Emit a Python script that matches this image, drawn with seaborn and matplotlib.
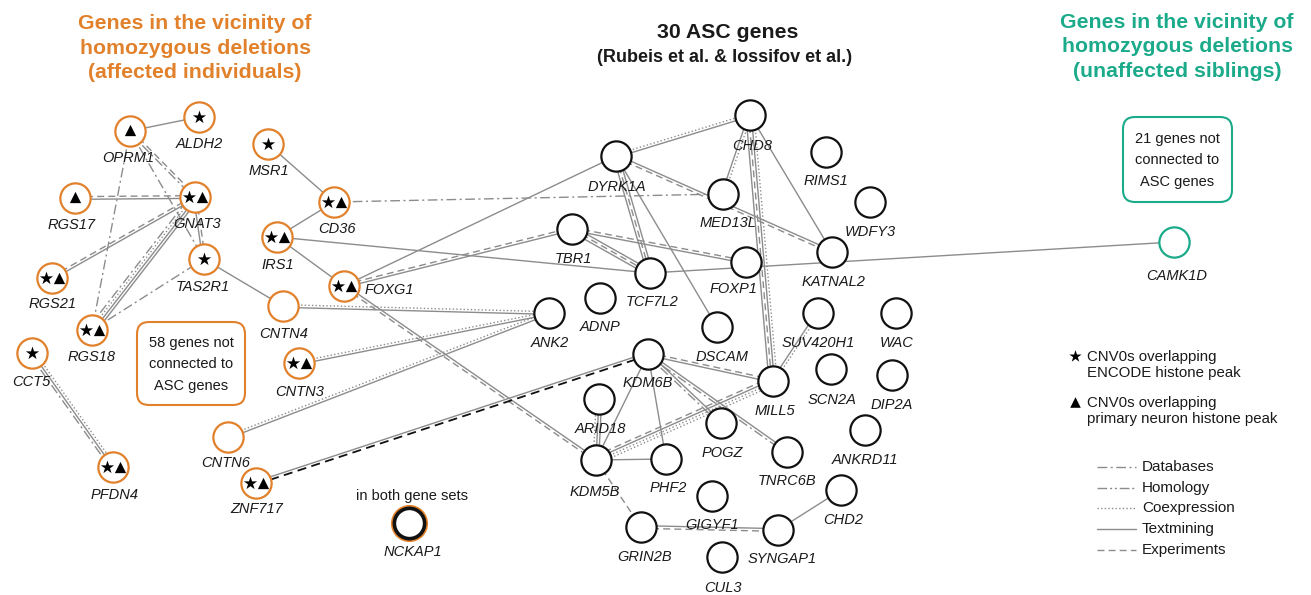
import numpy as np
import pandas as pd
import matplotlib
matplotlib.use("Agg")
import matplotlib.pyplot as plt
from matplotlib.patches import FancyBboxPatch
import seaborn as sns

# ---------------- data ----------------
gene_names = ["OPRM1", "ALDH2", "MSR1", "RGS17", "GNAT3", "TAS2R1", "RGS21", "RGS18",
              "CCT5", "PFDN4", "CD36", "IRS1", "FOXG1", "CNTN4", "CNTN3", "CNTN6", "ZNF717",
              "NCKAP1",
              "CHD8", "DYRK1A", "MED13L", "RIMS1", "WDFY3", "TBR1", "TCF7L2", "FOXP1", "KATNAL2",
              "ADNP", "DSCAM", "SUV420H1", "WAC", "ANK2", "KDM6B", "MILL5", "SCN2A", "DIP2A",
              "ARID18", "POGZ", "ANKRD11", "KDM5B", "PHF2", "TNRC6B", "CHD2", "GIGYF1",
              "GRIN2B", "SYNGAP1", "CUL3",
              "CAMK1D"]
gene_group = (["affected"] * 17 + ["both"] + ["asc"] * 29 + ["sibling"])
# histone peak marks: S = ENCODE (star), T = primary neuron (triangle)
gene_marks = ["T", "S", "S", "T", "ST", "S", "ST", "ST",
              "S", "ST", "ST", "ST", "ST", "", "ST", "", "ST",
              ""] + [""] * 29 + [""]

# edges: (gene a, gene b, evidence types)
edge_list = [
    ("OPRM1", "ALDH2", ["tm"]),
    ("OPRM1", "GNAT3", ["exp", "db"]),
    ("OPRM1", "TAS2R1", ["db"]),
    ("OPRM1", "RGS18", ["db"]),
    ("RGS17", "GNAT3", ["exp", "tm"]),
    ("RGS21", "GNAT3", ["exp", "tm"]),
    ("RGS18", "GNAT3", ["db", "co", "tm", "tm"]),
    ("RGS18", "TAS2R1", ["db"]),
    ("GNAT3", "TAS2R1", ["exp", "tm"]),
    ("TAS2R1", "CNTN4", ["tm"]),
    ("CCT5", "PFDN4", ["co", "tm", "db"]),
    ("MSR1", "CD36", ["tm"]),
    ("CD36", "IRS1", ["tm"]),
    ("CD36", "MED13L", ["db"]),
    ("IRS1", "FOXG1", ["tm"]),
    ("IRS1", "TCF7L2", ["tm"]),
    ("FOXG1", "DYRK1A", ["tm"]),
    ("FOXG1", "TBR1", ["exp", "tm"]),
    ("FOXG1", "KDM5B", ["tm", "exp"]),
    ("CNTN4", "ANK2", ["co", "tm"]),
    ("CNTN3", "ANK2", ["co", "tm"]),
    ("CNTN6", "ANK2", ["co", "tm"]),
    ("ZNF717", "KDM6B", ["tm", "expk"]),
    ("DYRK1A", "CHD8", ["co", "tm"]),
    ("DYRK1A", "TCF7L2", ["tm", "exp", "tm"]),
    ("DYRK1A", "DSCAM", ["tm"]),
    ("DYRK1A", "KATNAL2", ["tm", "exp"]),
    ("CHD8", "MED13L", ["co", "tm"]),
    ("CHD8", "MILL5", ["co", "tm", "exp", "tm"]),
    ("CHD8", "KATNAL2", ["tm"]),
    ("TBR1", "TCF7L2", ["tm", "exp", "tm"]),
    ("TBR1", "FOXP1", ["exp", "tm"]),
    ("TCF7L2", "CAMK1D", ["tm"]),
    ("KDM6B", "MILL5", ["exp", "tm"]),
    ("KDM6B", "POGZ", ["tm", "db"]),
    ("KDM6B", "TNRC6B", ["tm", "db"]),
    ("KDM6B", "PHF2", ["tm"]),
    ("KDM6B", "KDM5B", ["tm"]),
    ("KDM5B", "ARID18", ["co", "tm", "tm"]),
    ("KDM5B", "MILL5", ["exp", "tm", "co", "co"]),
    ("KDM5B", "PHF2", ["tm"]),
    ("KDM5B", "GRIN2B", ["exp"]),
    ("GRIN2B", "SYNGAP1", ["tm", "exp"]),
    ("SYNGAP1", "CHD2", ["tm"]),
    ("MILL5", "SUV420H1", ["tm", "co"]),
]

evidence_names = ["Databases", "Homology", "Coexpression", "Textmining", "Experiments"]
star_legend = "CNV0s overlapping\nENCODE histone peak"
tri_legend = "CNV0s overlapping\nprimary neuron histone peak"

# ---------------- layout (pixel coordinates) ----------------
layout = {
    "OPRM1": (130, 131), "ALDH2": (199, 117), "MSR1": (268, 144), "RGS17": (75, 198),
    "GNAT3": (195, 197), "TAS2R1": (204, 259), "RGS21": (52, 278), "RGS18": (92, 330),
    "CCT5": (32, 353), "PFDN4": (113, 467), "CD36": (334, 202), "IRS1": (277, 237),
    "FOXG1": (344, 286), "CNTN4": (283, 306), "CNTN3": (299, 363), "CNTN6": (228, 437),
    "ZNF717": (256, 483), "NCKAP1": (409, 523),
    "CHD8": (750, 115), "DYRK1A": (616, 156), "MED13L": (723, 194), "RIMS1": (826, 152),
    "WDFY3": (870, 202), "TBR1": (572, 229), "TCF7L2": (650, 273), "FOXP1": (746, 262),
    "KATNAL2": (832, 252), "ADNP": (600, 298), "DSCAM": (717, 327), "SUV420H1": (818, 313),
    "WAC": (896, 313), "ANK2": (549, 313), "KDM6B": (648, 354), "MILL5": (773, 381),
    "SCN2A": (831, 369), "DIP2A": (892, 375), "ARID18": (599, 399), "POGZ": (721, 423),
    "ANKRD11": (865, 430), "KDM5B": (596, 460), "PHF2": (666, 459), "TNRC6B": (787, 452),
    "CHD2": (841, 490), "GIGYF1": (712, 496), "GRIN2B": (641, 527), "SYNGAP1": (778, 530),
    "CUL3": (722, 557), "CAMK1D": (1174, 242),
}
label_pos = {
    "OPRM1": (128, 158), "ALDH2": (199, 144), "MSR1": (269, 171), "RGS17": (72, 225),
    "GNAT3": (197, 224), "TAS2R1": (203, 287), "RGS21": (53, 304), "RGS18": (92, 357),
    "CCT5": (31, 382), "PFDN4": (115, 495), "CD36": (337, 229), "IRS1": (278, 265),
    "FOXG1": (389, 290), "CNTN4": (284, 334), "CNTN3": (300, 392), "CNTN6": (226, 463),
    "ZNF717": (257, 509), "NCKAP1": (413, 552),
    "CHD8": (752, 146), "DYRK1A": (617, 187), "MED13L": (728, 223), "RIMS1": (826, 181),
    "WDFY3": (870, 232), "TBR1": (573, 259), "TCF7L2": (652, 302), "FOXP1": (733, 289),
    "KATNAL2": (833, 282), "ADNP": (600, 327), "DSCAM": (722, 357), "SUV420H1": (818, 343),
    "WAC": (897, 343), "ANK2": (550, 343), "KDM6B": (648, 383), "MILL5": (775, 411),
    "SCN2A": (832, 400), "DIP2A": (892, 405), "ARID18": (600, 429), "POGZ": (722, 453),
    "ANKRD11": (865, 460), "KDM5B": (595, 492), "PHF2": (668, 488), "TNRC6B": (787, 481),
    "CHD2": (843, 520), "GIGYF1": (712, 525), "GRIN2B": (645, 557), "SYNGAP1": (782, 559),
    "CUL3": (723, 588), "CAMK1D": (1177, 276),
}

ORANGE = "#E2812B"
TEAL = "#1BAA8A"
EDGE = "#8C8C8C"
styles = {
    "db": dict(ls=(0, (7, 2.5, 1.5, 2.5)), color=EDGE),
    "hom": dict(ls=(0, (7, 2, 1.5, 2, 1.5, 2)), color=EDGE),
    "co": dict(ls=(0, (1, 1.6)), color=EDGE),
    "tm": dict(ls="-", color=EDGE),
    "exp": dict(ls=(0, (5, 3)), color=EDGE),
    "expk": dict(ls=(0, (5, 3)), color="#111111"),
}

sns.set_theme(style="white")
plt.rcParams["font.family"] = ["Liberation Sans", "DejaVu Sans"]

fig = plt.figure(figsize=(13.11, 5.95), dpi=100)
ax = fig.add_axes([0, 0, 1, 1])
ax.set_xlim(0, 1311)
ax.set_ylim(595, 0)
ax.axis("off")

# ---------------- edges ----------------
LW = 1.0
for a, b, kinds in edge_list:
    x1, y1 = layout[a]
    x2, y2 = layout[b]
    d = np.array([x2 - x1, y2 - y1], float)
    n = np.array([-d[1], d[0]]) / np.hypot(*d)
    k = len(kinds)
    for i, kind in enumerate(kinds):
        off = (i - (k - 1) / 2) * 2.7
        ax.plot([x1 + n[0] * off, x2 + n[0] * off], [y1 + n[1] * off, y2 + n[1] * off],
                lw=LW if kind != "expk" else 1.3, zorder=1, solid_capstyle="butt", **styles[kind])

# ---------------- nodes ----------------
df = pd.DataFrame({"gene": gene_names, "group": gene_group, "marks": gene_marks})
df["x"] = [layout[g][0] for g in df.gene]
df["y"] = [layout[g][1] for g in df.gene]
edge_colors = {"affected": ORANGE, "asc": "#111111", "sibling": TEAL, "both": "#111111"}

both = df[df.group == "both"]
sns.scatterplot(data=both, x="x", y="y", s=600, color="white", edgecolor=ORANGE,
                linewidth=2.2, ax=ax, zorder=3, legend=False)
for grp in ["affected", "asc", "sibling", "both"]:
    sub = df[df.group == grp]
    sns.scatterplot(data=sub, x="x", y="y", s=475, color="white",
                    edgecolor=edge_colors[grp], linewidth=1.6 if grp != "both" else 2.6,
                    ax=ax, zorder=4, legend=False)

star_x, star_y, tri_x, tri_y = [], [], [], []
for _, r in df.iterrows():
    if r.marks == "ST":
        star_x.append(r.x - 6.5); star_y.append(r.y - 0.5)
        tri_x.append(r.x + 6.5); tri_y.append(r.y - 0.5)
    elif r.marks == "S":
        star_x.append(r.x); star_y.append(r.y - 0.5)
    elif r.marks == "T":
        tri_x.append(r.x); tri_y.append(r.y - 1)
sns.scatterplot(x=star_x, y=star_y, marker="*", s=100, color="black", linewidth=0, ax=ax, zorder=5)
sns.scatterplot(x=tri_x, y=tri_y, marker="^", s=66, color="black", linewidth=0, ax=ax, zorder=5)

for g in gene_names:
    lx, ly = label_pos[g]
    ax.text(lx, ly, g, ha="center", va="center", fontsize=10.5, style="italic",
            color="#1a1a1a", zorder=6)

# ---------------- titles ----------------
ax.text(195, 48, "Genes in the vicinity of\nhomozygous deletions\n(affected individuals)",
        ha="center", va="center", fontsize=15.3, fontweight="bold", color=ORANGE,
        linespacing=1.38)
ax.text(1177, 47, "Genes in the vicinity of\nhomozygous deletions\n(unaffected siblings)",
        ha="center", va="center", fontsize=15.3, fontweight="bold", color=TEAL,
        linespacing=1.38)
ax.text(728, 32, "30 ASC genes", ha="center", va="center", fontsize=15.3,
        fontweight="bold", color="#1a1a1a")
ax.text(725, 58, "(Rubeis et al. & Iossifov et al.)", ha="center", va="center",
        fontsize=13, fontweight="bold", color="#1a1a1a")
ax.text(412, 496, "in both gene sets", ha="center", va="center", fontsize=10.5, color="#1a1a1a")

# ---------------- boxes ----------------
for (x0, y0, w, h, col, txt) in [(137, 322, 108, 83, ORANGE, "58 genes not\nconnected to\nASC genes"),
                                  (1123, 117, 109, 85, TEAL, "21 genes not\nconnected to\nASC genes")]:
    ax.add_patch(FancyBboxPatch((x0 + 12, y0 + 12), w - 24, h - 24,
                                boxstyle="round,pad=12", fc="white", ec=col, lw=1.5, zorder=2))
    ax.text(x0 + w / 2, y0 + h / 2 + 1, txt, ha="center", va="center", fontsize=10.5,
            linespacing=1.65, color="#1a1a1a", zorder=3)

# ---------------- legend ----------------
sns.scatterplot(x=[1075], y=[356], marker="*", s=85, color="black", linewidth=0, ax=ax)
sns.scatterplot(x=[1075], y=[402], marker="^", s=58, color="black", linewidth=0, ax=ax)
ax.text(1087, 365, star_legend, ha="left", va="center", fontsize=10.8, linespacing=1.2,
        color="#1a1a1a")
ax.text(1087, 411, tri_legend, ha="left", va="center", fontsize=10.8, linespacing=1.2,
        color="#1a1a1a")
for i, (name, kind) in enumerate(zip(evidence_names, ["db", "hom", "co", "tm", "exp"])):
    yy = 467 + i * 20.7
    ax.plot([1097, 1136], [yy, yy], lw=LW, **styles[kind])
    ax.text(1142, yy, name, ha="left", va="center", fontsize=11, color="#1a1a1a")

fig.savefig("out.png", dpi=100, facecolor="white")
